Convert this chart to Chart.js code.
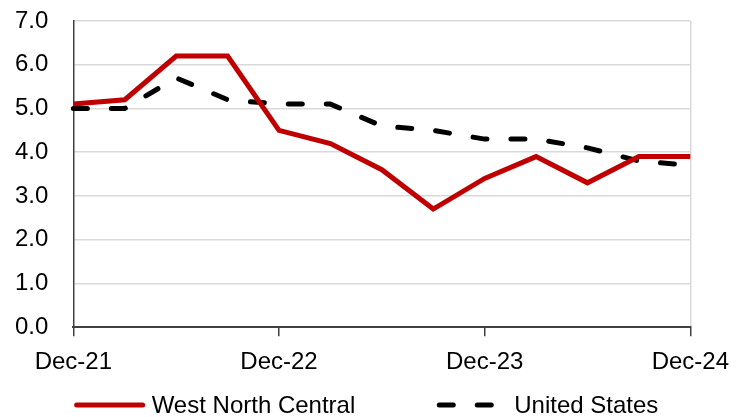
<!DOCTYPE html>
<html lang="en">
<head>
    <meta charset="utf-8">
    <title>West North Central vs United States</title>
    <style>
        html, body { margin: 0; padding: 0; background: #ffffff; }
        #chart { display: block; }
    </style>
</head>
<body>
    <canvas id="chart" width="741" height="417"></canvas>

    <script src="https://cdn.jsdelivr.net/npm/chart.js"></script>
    <script>
        // quarterly values
        const quarters = ['Dec-21', 'Mar-22', 'Jun-22', 'Sep-22', 'Dec-22', 'Mar-23', 'Jun-23',
            'Sep-23', 'Dec-23', 'Mar-24', 'Jun-24', 'Sep-24', 'Dec-24'];
        const westNorthCentral = [5.1, 5.2, 6.2, 6.2, 4.5, 4.2, 3.6, 2.7, 3.4, 3.9, 3.3, 3.9, 3.9];
        const unitedStates = [5.0, 5.0, 5.7, 5.2, 5.1, 5.1, 4.6, 4.5, 4.3, 4.3, 4.1, 3.8, 3.7];
        const seriesNames = ['West North Central', 'United States'];

        const fontFamily = '"Liberation Sans", Arial, sans-serif';
        const last = quarters.length - 1;

        // legend drawn by hand so the gap between items can be wide without a tall box
        const lineLegend = {
            id: 'lineLegend',
            afterDraw(chart) {
                const ctx = chart.ctx;
                const sets = chart.data.datasets;
                const lineW = 70, gap = 7, itemGap = 82;
                ctx.save();
                ctx.font = '24px ' + fontFamily;
                ctx.textBaseline = 'middle';
                const widths = sets.map(d => lineW + gap + ctx.measureText(d.label).width);
                const total = widths.reduce((a, b) => a + b, 0) + itemGap * (sets.length - 1);
                let x = (chart.width - total) / 2 - 4;
                const y = chart.height - 12;
                sets.forEach((d, i) => {
                    ctx.strokeStyle = d.borderColor;
                    ctx.lineWidth = d.borderWidth;
                    ctx.lineCap = 'round';
                    ctx.setLineDash(d.borderDash || []);
                    ctx.beginPath();
                    ctx.moveTo(x + 2, y);
                    ctx.lineTo(x + lineW - 2, y);
                    ctx.stroke();
                    ctx.setLineDash([]);
                    ctx.fillStyle = '#000000';
                    ctx.fillText(d.label, x + lineW + gap, y + 1);
                    x += widths[i] + itemGap;
                });
                ctx.restore();
            }
        };

        let data = {
            labels: quarters,
            datasets: [{
                label: seriesNames[0],
                data: westNorthCentral,
                borderColor: '#c00000',
                borderWidth: 5,
                pointRadius: 0,
                tension: 0,
                fill: false
            }, {
                label: seriesNames[1],
                data: unitedStates,
                borderColor: '#000000',
                borderWidth: 5,
                borderDash: [14, 24],
                borderCapStyle: 'round',
                pointRadius: 0,
                tension: 0,
                fill: false
            }]
        };

        let config = {
            type: 'line',
            data: data,
            plugins: [lineLegend],
            options: {
                responsive: false,
                animation: false,
                devicePixelRatio: 1,
                layout: {
                    padding: { left: 11, right: 46, top: 21, bottom: 28 }
                },
                plugins: {
                    legend: { display: false },
                    tooltip: { enabled: false }
                },
                scales: {
                    x: {
                        offset: false,
                        border: { color: '#404040', width: 2 },
                        grid: {
                            drawOnChartArea: true,
                            color: ctx => ctx.index === last ? '#d9d9d9' : 'rgba(0,0,0,0)',
                            lineWidth: 1.5,
                            tickColor: ctx => ctx.index % 4 === 0 ? '#404040' : 'rgba(0,0,0,0)',
                            tickLength: 9,
                            tickWidth: 1.5
                        },
                        ticks: {
                            autoSkip: false,
                            maxRotation: 0,
                            padding: 12,
                            color: '#000000',
                            font: { family: fontFamily, size: 24 },
                            callback: function (value, index) {
                                return index % 4 === 0 ? quarters[index] : '';
                            }
                        }
                    },
                    y: {
                        min: 0,
                        max: 7,
                        border: { color: '#404040', width: 1.5 },
                        grid: {
                            color: '#d9d9d9',
                            lineWidth: 1.5,
                            drawTicks: true,
                            tickLength: 21,
                            tickColor: 'rgba(0,0,0,0)'
                        },
                        ticks: {
                            stepSize: 1,
                            padding: 4,
                            color: '#000000',
                            font: { family: fontFamily, size: 24 },
                            callback: v => v.toFixed(1)
                        }
                    }
                }
            }
        };

        let chartCtx = document.getElementById('chart').getContext('2d');
        let myChart = new Chart(chartCtx, config);
    </script>
</body>
</html>
